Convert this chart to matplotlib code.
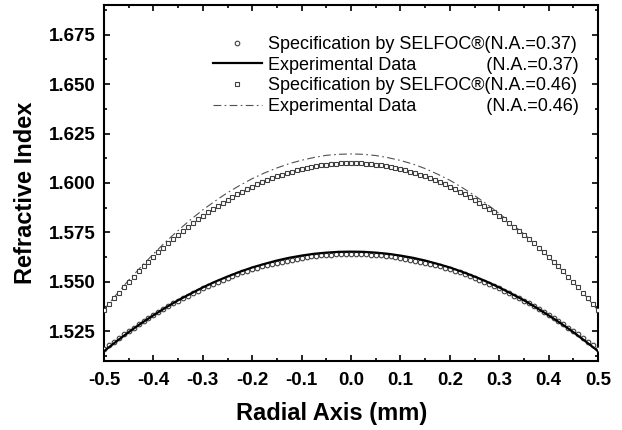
import numpy as np
import matplotlib
matplotlib.use("Agg")
import matplotlib.pyplot as plt
from matplotlib.ticker import MultipleLocator, FormatStrFormatter

plt.rcParams['font.family'] = ['Liberation Sans', 'DejaVu Sans']
plt.rcParams['axes.unicode_minus'] = False

# Radial positions of the specification markers (mm)
r_spec = [-0.50, -0.49, -0.48, -0.47, -0.46, -0.45, -0.44, -0.43, -0.42, -0.41,
          -0.40, -0.39, -0.38, -0.37, -0.36, -0.35, -0.34, -0.33, -0.32, -0.31,
          -0.30, -0.29, -0.28, -0.27, -0.26, -0.25, -0.24, -0.23, -0.22, -0.21,
          -0.20, -0.19, -0.18, -0.17, -0.16, -0.15, -0.14, -0.13, -0.12, -0.11,
          -0.10, -0.09, -0.08, -0.07, -0.06, -0.05, -0.04, -0.03, -0.02, -0.01,
          0.00, 0.01, 0.02, 0.03, 0.04, 0.05, 0.06, 0.07, 0.08, 0.09,
          0.10, 0.11, 0.12, 0.13, 0.14, 0.15, 0.16, 0.17, 0.18, 0.19,
          0.20, 0.21, 0.22, 0.23, 0.24, 0.25, 0.26, 0.27, 0.28, 0.29,
          0.30, 0.31, 0.32, 0.33, 0.34, 0.35, 0.36, 0.37, 0.38, 0.39,
          0.40, 0.41, 0.42, 0.43, 0.44, 0.45, 0.46, 0.47, 0.48, 0.49, 0.50]

# Specification by SELFOC (N.A.=0.37)
spec_037 = [1.5160, 1.5179, 1.5198, 1.5216, 1.5234, 1.5251, 1.5269, 1.5285, 1.5302, 1.5318,
            1.5333, 1.5348, 1.5363, 1.5378, 1.5392, 1.5405, 1.5419, 1.5431, 1.5444, 1.5456,
            1.5468, 1.5479, 1.5490, 1.5501, 1.5511, 1.5521, 1.5530, 1.5539, 1.5548, 1.5556,
            1.5564, 1.5572, 1.5579, 1.5585, 1.5592, 1.5598, 1.5603, 1.5608, 1.5613, 1.5618,
            1.5622, 1.5625, 1.5629, 1.5632, 1.5634, 1.5636, 1.5638, 1.5639, 1.5640, 1.5641,
            1.5641, 1.5641, 1.5640, 1.5639, 1.5638, 1.5636, 1.5634, 1.5632, 1.5629, 1.5625,
            1.5622, 1.5618, 1.5613, 1.5608, 1.5603, 1.5598, 1.5592, 1.5585, 1.5579, 1.5572,
            1.5564, 1.5556, 1.5548, 1.5539, 1.5530, 1.5521, 1.5511, 1.5501, 1.5490, 1.5479,
            1.5468, 1.5456, 1.5444, 1.5431, 1.5419, 1.5405, 1.5392, 1.5378, 1.5363, 1.5348,
            1.5333, 1.5318, 1.5302, 1.5285, 1.5269, 1.5251, 1.5234, 1.5216, 1.5198, 1.5179, 1.5160]

# Specification by SELFOC (N.A.=0.46)
spec_046 = [1.5360, 1.5389, 1.5418, 1.5446, 1.5474, 1.5501, 1.5527, 1.5553, 1.5578, 1.5602,
            1.5626, 1.5650, 1.5673, 1.5695, 1.5716, 1.5737, 1.5758, 1.5778, 1.5797, 1.5816,
            1.5834, 1.5851, 1.5868, 1.5884, 1.5900, 1.5915, 1.5930, 1.5943, 1.5957, 1.5969,
            1.5982, 1.5993, 1.6004, 1.6014, 1.6024, 1.6033, 1.6042, 1.6050, 1.6057, 1.6064,
            1.6070, 1.6076, 1.6081, 1.6085, 1.6089, 1.6093, 1.6095, 1.6097, 1.6099, 1.6100,
            1.6100, 1.6100, 1.6099, 1.6097, 1.6095, 1.6093, 1.6089, 1.6085, 1.6081, 1.6076,
            1.6070, 1.6064, 1.6057, 1.6050, 1.6042, 1.6033, 1.6024, 1.6014, 1.6004, 1.5993,
            1.5982, 1.5969, 1.5957, 1.5943, 1.5930, 1.5915, 1.5900, 1.5884, 1.5868, 1.5851,
            1.5834, 1.5816, 1.5797, 1.5778, 1.5758, 1.5737, 1.5716, 1.5695, 1.5673, 1.5650,
            1.5626, 1.5602, 1.5578, 1.5553, 1.5527, 1.5501, 1.5474, 1.5446, 1.5418, 1.5389, 1.5360]

# Radial positions of the experimental curves (mm)
r_exp = [-0.500, -0.475, -0.450, -0.425, -0.400, -0.375, -0.350, -0.325, -0.300, -0.275,
         -0.250, -0.225, -0.200, -0.175, -0.150, -0.125, -0.100, -0.075, -0.050, -0.025,
         0.000, 0.025, 0.050, 0.075, 0.100, 0.125, 0.150, 0.175, 0.200, 0.225,
         0.250, 0.275, 0.300, 0.325, 0.350, 0.375, 0.400, 0.425, 0.450, 0.475, 0.500]

# Experimental Data (N.A.=0.37)
exp_037 = [1.5150, 1.5199, 1.5246, 1.5290, 1.5331, 1.5370, 1.5407, 1.5440, 1.5472, 1.5501,
           1.5527, 1.5551, 1.5573, 1.5591, 1.5608, 1.5622, 1.5633, 1.5642, 1.5648, 1.5652,
           1.5653, 1.5652, 1.5648, 1.5642, 1.5633, 1.5622, 1.5608, 1.5591, 1.5573, 1.5551,
           1.5527, 1.5501, 1.5472, 1.5440, 1.5407, 1.5370, 1.5331, 1.5290, 1.5246, 1.5199, 1.5150]

# Experimental Data (N.A.=0.46)
exp_046 = [1.5360, 1.5436, 1.5509, 1.5576, 1.5641, 1.5703, 1.5760, 1.5814, 1.5864, 1.5909,
           1.5951, 1.5988, 1.6022, 1.6051, 1.6076, 1.6098, 1.6115, 1.6129, 1.6140, 1.6145,
           1.6147, 1.6145, 1.6139, 1.6128, 1.6114, 1.6096, 1.6073, 1.6045, 1.6014, 1.5977,
           1.5937, 1.5893, 1.5846, 1.5795, 1.5742, 1.5686, 1.5626, 1.5564, 1.5499, 1.5429, 1.5356]

labels = ["Specification by SELFOC\u00ae(N.A.=0.37)",
          "Experimental Data              (N.A.=0.37)",
          "Specification by SELFOC\u00ae(N.A.=0.46)",
          "Experimental Data              (N.A.=0.46)"]

fig = plt.figure(figsize=(6.22, 4.30), dpi=100)
ax = fig.add_axes([104/622, 1-361/430, (598-104)/622, (361-5)/430])

mc = '#404040'
ax.plot(r_spec, spec_037, linestyle='none', marker='o', markersize=3.3,
        markerfacecolor='white', markeredgecolor=mc, markeredgewidth=0.8,
        label=labels[0], zorder=3)
ax.plot(r_exp, exp_037, color='black', linewidth=1.6, label=labels[1], zorder=4)
ax.plot(r_spec, spec_046, linestyle='none', marker='s', markersize=3.3,
        markerfacecolor='white', markeredgecolor=mc, markeredgewidth=0.8,
        label=labels[2], zorder=3)
ax.plot(r_exp, exp_046, color='#505050', linewidth=0.8, dashes=(7, 3, 1.5, 3),
        label=labels[3], zorder=2)

ax.set_xlim(-0.5, 0.5)
ax.set_ylim(1.51, 1.69)
ax.xaxis.set_major_locator(MultipleLocator(0.1))
ax.xaxis.set_minor_locator(MultipleLocator(0.05))
ax.yaxis.set_major_locator(MultipleLocator(0.025))
ax.yaxis.set_minor_locator(MultipleLocator(0.0125))
ax.xaxis.set_major_formatter(FormatStrFormatter('%.1f'))
ax.yaxis.set_major_formatter(FormatStrFormatter('%.3f'))
ax.tick_params(which='both', direction='in', top=True, right=True, width=1.2)
ax.tick_params(which='major', length=4.5, labelsize=13.5)
ax.tick_params(axis='x', which='major', pad=8)
ax.tick_params(axis='y', which='major', pad=6)
ax.tick_params(which='minor', length=2.5)
for lab in ax.get_xticklabels() + ax.get_yticklabels():
    lab.set_fontweight('bold')
for s in ax.spines.values():
    s.set_linewidth(1.5)

ax.set_xlabel('Radial Axis (mm)', fontsize=17, fontweight='bold')
ax.set_ylabel('Refractive Index', fontsize=17, fontweight='bold')
ax.xaxis.set_label_coords(0.4615, -0.114)
ax.yaxis.set_label_coords(-0.136, 0.472)

leg = ax.legend(loc='upper right', bbox_to_anchor=(0.976, 0.933), frameon=False,
                fontsize=13, handlelength=2.7, handletextpad=0.35, labelspacing=0.2,
                borderaxespad=0.0)

fig.savefig('out.png', dpi=100)
